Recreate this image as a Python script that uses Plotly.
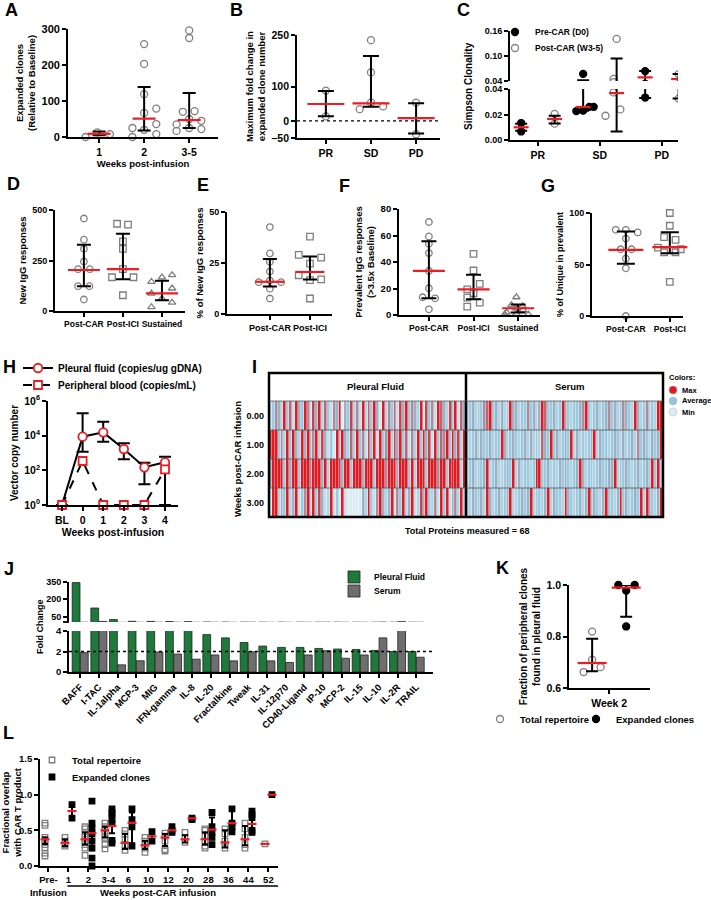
import plotly.graph_objects as go

W, H = 711, 900
FONT = "Liberation Sans, Arial, sans-serif"
RED = "#ec1c24"
GREY = "#7f7f7f"
GREEN = "#1d7a3b"
SERUM = "#6e6e6e"

# ---------------- A: expanded clones ----------------
a_cats = ["1", "2", "3-5"]
a_vals = [[0, 13, 8],
          [258, 203, 119, 67, 79, 36, 25, 20, 8, 0],
          [296, 275, 70, 72, 50, 45, 35, 25, 22, 17]]
a_med = [9, 51, 47]
a_hi = [15, 139, 122]
a_lo = [5, 18, 25]

# ---------------- B: max fold change by response ----------------
b_cats = ["PR", "SD", "PD"]
b_vals = [[88, 13], [235, 141, 53, 34, 42], [53, -39]]
b_med = [49, 51, 8]
b_hi = [87, 189, 51]
b_lo = [13, 41, -37]

# ---------------- C: Simpson clonality ----------------
c_cats = ["PR", "SD", "PD"]
c_pre = [[0.0133, 0.0067], [0.057, 0.0227, 0.023, 0.026, 0.026], [0.0637, 0.0333]]
c_post = [[0.0205, 0.0128], [0.141, 0.045, 0.0373, 0.024, 0.019], [0.0566, 0.0325]]
c_pre_med = [0.010, 0.0259, 0.0487]
c_pre_hi = [0.0128, 0.042, 0.064]
c_pre_lo = [0.0072, 0.023, 0.033]
c_post_med = [0.0165, 0.0368, 0.0447]
c_post_hi = [0.019, 0.094, 0.0566]
c_post_lo = [0.013, 0.0067, 0.0325]

# ---------------- D-G: IgG responses ----------------
dg_cats3 = ["Post-CAR", "Post-ICI", "Sustained"]
dg_cats2 = ["Post-CAR", "Post-ICI"]
d_vals = [[458, 353, 308, 245, 207, 207, 123, 123, 57],
          [432, 428, 345, 308, 207, 167, 167, 78],
          [145, 167, 178, 87, 112, 62, 20, 42]]
d_med = [203, 207, 87]
d_hi = [328, 383, 150]
d_lo = [123, 157, 53]

e_vals = [[42.6, 29.7, 25.6, 20.8, 16.4, 15.6, 15.6, 12.4, 7.6],
          [37.9, 29, 27.6, 24.7, 19, 16.6, 17, 7.6]]
e_med = [15.8, 20.6]
e_hi = [26.9, 28.2]
e_lo = [13.5, 16.9]

f_vals = [[70.2, 59.3, 53.8, 46.7, 33.3, 20.2, 13.4, 12.6, 4.3],
          [46.2, 33.6, 23.5, 19.4, 16.4, 13.1, 9.3, 6.3],
          [13.5, 7.5, 6.8, 5, 3.8, 2, 1, 0.5, 0.5]]
f_med = [33.3, 19.4, 5.1]
f_hi = [55.6, 30.3, 8]
f_lo = [12.6, 11.9, 1.8]

g_vals = [[83.7, 83.7, 81.1, 75.2, 64.8, 64.8, 55.7, 46.3, 0],
          [100, 87.6, 76.5, 73.9, 66.4, 64.8, 61.9, 61.9, 33.2]]
g_med = [64.2, 66.8]
g_hi = [82, 81.4]
g_lo = [50.8, 61]

# ---------------- H: vector copy number ----------------
h_weeks = ["BL", "0", "1", "2", "3", "4"]
h_pleural = [1, 8700, 15500, 1700, 150, 290]
h_pleural_hi = [1, 195000, 64000, 3600, 275, 610]
h_pleural_lo = [1, 1200, 4500, 430, 15.5, 1]
h_blood = [1, 345, 1, 1, 1, 115]

# ---------------- I: cytokine heatmap (0 = min, 4-5 = average, 9 = max) ----------------
i_weeks = ["0.00", "1.00", "2.00", "3.00"]
i_pleural = ["3465394729 5496285937 4265915483 6293749519 3647285946 5391846297 53849275",
             "9994639495 3959469385 2419495373 9462849294 6938594726 3949582947 69495839",
             "6999949599 4999699959 3999859949 9959994999 6999599949 3999499969 94999939",
             "2993549359 2469394852 3924192111 1153942695 3592649359 2385943629 49256393"]
i_serum = ["4453446794 5353495534 4645359744 5349543445 6943453456 4534654395 34634399",
           "4345354453 4495345434 5353437549 4534549353 4345935443 4543534536 45435459",
           "3453445934 5334549353 4434994453 4354543459 5344345445 5934454345 34549493",
           "4354453953 4534593345 4593443593 5443954345 3594543594 4359453454 93954359"]

# ---------------- J: fold change ----------------
j_cyto = ["BAFF", "I-TAC", "IL-1alpha", "MCP-3", "MIG", "IFN-gamma", "IL-8", "IL-20",
          "Fractalkine", "Tweak", "IL-31", "IL-12p70", "CD40-Ligand", "IP-10", "MCP-2",
          "IL-15", "IL-10", "IL-2R", "TRAIL"]
j_pleural = [345, 125, 25, 10, 9, 8, 7, 3.65, 3.33, 2.88, 2.53, 2.4, 2.4, 2.3, 2.24, 2.2, 2.1, 2.0, 2.0]
j_serum = [1.89, 9, 0.7, 1.1, 1.95, 1.75, 1.25, 1.66, 1.09, 1.98, 1.09, 0.93, 1.66, 2.08, 1.34,
           1.66, 3.33, 7, 1.44]

# ---------------- K: overlap with pleural fluid ----------------
k_total = [0.819, 0.71, 0.681, 0.662]
k_expanded = [1.0, 1.0, 0.978, 0.839]
k_med = [0.697, 0.99]
k_hi = [0.791, 1.0]
k_lo = [0.665, 0.877]

# ---------------- L: overlap with CAR T product ----------------
l_cats = ["Pre-<br>Infusion", "1", "2", "3-4", "6", "10", "12", "20", "28", "36", "44", "52"]
l_total = [[0.6, 0.57, 0.4, 0.37, 0.33, 0.3, 0.25, 0.18, 0.14],
           [0.4, 0.35, 0.3, 0.28],
           [0.55, 0.52, 0.45, 0.4, 0.35, 0.3, 0.25, 0.15],
           [0.6, 0.55, 0.5, 0.45, 0.4, 0.38, 0.3, 0.24],
           [0.5, 0.45, 0.37, 0.3, 0.22],
           [0.4, 0.35, 0.3, 0.25, 0.19],
           [0.46, 0.42, 0.35, 0.23, 0.21],
           [0.47, 0.4, 0.33],
           [0.52, 0.5, 0.42, 0.35, 0.28, 0.25],
           [0.52, 0.45, 0.35, 0.3, 0.25],
           [0.6, 0.52, 0.4, 0.3, 0.25],
           [0.31]]
l_total_med = [0.375, 0.324, 0.375, 0.5, 0.324, 0.29, 0.4, 0.375, 0.375, 0.33, 0.375, 0.31]
l_total_hi = [0.4, 0.37, 0.47, 0.55, 0.45, 0.35, 0.45, 0.43, 0.47, 0.5, 0.56, 0.31]
l_total_lo = [0.31, 0.28, 0.3, 0.4, 0.24, 0.24, 0.28, 0.33, 0.3, 0.26, 0.29, 0.31]
l_exp = [[0.86, 0.67],
         [0.91, 0.6, 0.53, 0.45, 0.35, 0.25, 0.11, 0.0],
         [0.8, 0.75, 0.72, 0.65, 0.6, 0.36, 0.32],
         [0.8, 0.65, 0.55, 0.28],
         [0.48, 0.35],
         [0.55, 0.5, 0.47],
         [0.67, 0.65],
         [0.75, 0.55, 0.48, 0.4, 0.3],
         [0.8, 0.6, 0.55, 0.48],
         [0.77, 0.72, 0.68, 0.5, 0.47],
         [1.0]]
l_exp_med = [0.77, 0.46, 0.56, 0.605, 0.415, 0.5, 0.667, 0.51, 0.6, 0.59, 1.0]
l_exp_hi = [0.83, 0.58, 0.68, 0.75, 0.45, 0.53, 0.68, 0.68, 0.8, 0.75, 1.0]
l_exp_lo = [0.7, 0.22, 0.46, 0.32, 0.38, 0.47, 0.65, 0.38, 0.5, 0.48, 1.0]

# point spread inside each column (category units)
a_jit = [[-0.3, -0.04, 0.24], [0, 0, 0, 0, 0.27, 0.27, -0.26, 0, 0.27, -0.26],
         [0, 0, -0.14, 0.12, 0, 0.27, -0.28, 0, 0.27, -0.28]]
b_jit = [[0, 0], [0, 0, 0, -0.25, 0.27], [0, 0]]
c_pre_jit = [[0, 0], [0, -0.11, 0, 0.1, 0.17], [0, 0]]
c_post_jit = [[0, 0], [0, -0.05, -0.05, 0.06, -0.18], [0, 0]]
d_jit = [[0, 0, 0, 0, -0.15, 0.15, -0.15, 0.14, 0], [-0.15, 0.13, 0, 0, 0, -0.28, 0.27, 0],
         [-0.27, 0, 0.26, -0.27, 0.26, 0, -0.27, 0.26]]
e_jit = [[0, 0, 0, 0, 0, -0.28, 0.28, 0, 0], [0, -0.28, 0.28, 0, -0.28, 0, 0.28, 0]]
f_jit = [[0, 0, 0, 0, 0, 0, -0.14, 0.14, 0], [0, 0, 0.14, -0.14, 0, -0.14, 0.14, -0.14],
         [-0.04, -0.15, 0.1, -0.04, 0.11, -0.26, -0.04, -0.3, 0.23]]
g_jit = [[-0.23, 0, 0.27, 0, -0.12, 0.13, 0, 0, 0], [0, 0, -0.13, 0.13, -0.27, 0.25, -0.13, 0.13, 0]]
k_jit = [[0, 0, 0.25, -0.25], [-0.23, 0.25, 0, 0]]


def px(x):
    return x / W


def py(y):
    return 1 - y / H


def xdom(a, b):
    return [px(a), px(b)]


def ydom(top, bot):
    return [py(bot), py(top)]


def tfont(size=10.5, color="black"):
    return dict(family=FONT, size=size, color=color, weight="bold")


def axis(dom, rng, anchor, size=10.5, **kw):
    d = dict(domain=dom, range=rng, anchor=anchor, showline=True, linecolor="black", linewidth=1.8,
             ticks="outside", ticklen=4, tickwidth=1.8, tickcolor="black", showgrid=False,
             zeroline=False, tickfont=tfont(size), fixedrange=True, automargin=False, tickangle=0)
    d.update(kw)
    return d


def ttl(text, size=9.5, standoff=4):
    return dict(text=text, font=tfont(size), standoff=standoff)


fig = go.Figure()


def dots(xa, ya, centers, vals, jit, symbol, color, size, clip=False, name=None, legend=None):
    xs, ys = [], []
    for c, vv, jj in zip(centers, vals, jit):
        for v, j in zip(vv, jj):
            xs.append(c + j)
            ys.append(v)
    fig.add_trace(go.Scatter(
        x=xs, y=ys, xaxis=xa, yaxis=ya, mode="markers", cliponaxis=clip, name=name,
        showlegend=legend is not None, legend=legend or "legend",
        marker=dict(symbol=symbol, size=size, color=color, line=dict(color=color, width=1.3))))


def summary(xa, ya, centers, med, hi, lo, medlen, cap, clip=False):
    fig.add_trace(go.Scatter(
        x=centers, y=med, xaxis=xa, yaxis=ya, mode="markers", cliponaxis=clip, showlegend=False,
        marker=dict(symbol="line-ew", size=medlen / 1.4, color=RED, line=dict(color=RED, width=2.2)),
        error_y=dict(type="data", symmetric=False, array=[h - m for h, m in zip(hi, med)],
                     arrayminus=[m - l for m, l in zip(med, lo)], color="black", thickness=2,
                     width=cap / 2)))


# A
dots("x", "y", [0, 1, 2], a_vals, a_jit, "circle-open", GREY, 7)
summary("x", "y", [0, 1, 2], a_med, a_hi, a_lo, 23, 13)
# B
dots("x2", "y2", [0, 1, 2], b_vals, b_jit, "circle-open", GREY, 7)
summary("x2", "y2", [0, 1, 2], b_med, b_hi, b_lo, 37, 16)
# C (broken axis: same data on both segments, clipped)
pre_c = [i - 0.27 for i in range(3)]
post_c = [i + 0.27 for i in range(3)]
for xa, ya, leg in [("x3", "y3", False), ("x4", "y4", True)]:
    dots(xa, ya, pre_c, c_pre, c_pre_jit, "circle", "black", 7, clip=True,
         name="Pre-CAR (D0)", legend="legend" if leg else None)
    dots(xa, ya, post_c, c_post, c_post_jit, "circle-open", GREY, 7, clip=True,
         name="Post-CAR (W3-5)", legend="legend2" if leg else None)
    summary(xa, ya, pre_c, c_pre_med, c_pre_hi, c_pre_lo, 15, 12, clip=True)
    summary(xa, ya, post_c, c_post_med, c_post_hi, c_post_lo, 15, 12, clip=True)
# D
d_sym = ["circle-open", "square-open", "triangle-up-open"]
for k in range(3):
    dots("x5", "y5", [k], [d_vals[k]], [d_jit[k]], d_sym[k], GREY, 6.5)
summary("x5", "y5", [0, 1, 2], d_med, d_hi, d_lo, 32, 14)
# E
for k in range(2):
    dots("x6", "y6", [k], [e_vals[k]], [e_jit[k]], d_sym[k], GREY, 6.5)
summary("x6", "y6", [0, 1], e_med, e_hi, e_lo, 29, 14)
# F
for k in range(3):
    dots("x7", "y7", [k], [f_vals[k]], [f_jit[k]], d_sym[k], GREY, 6.5)
summary("x7", "y7", [0, 1, 2], f_med, f_hi, f_lo, 32, 15)
# G
for k in range(2):
    dots("x8", "y8", [k], [g_vals[k]], [g_jit[k]], d_sym[k], GREY, 6.5)
summary("x8", "y8", [0, 1], g_med, g_hi, g_lo, 35, 18)

# H
hx = list(range(len(h_weeks)))
fig.add_trace(go.Scatter(
    x=hx, y=h_pleural, xaxis="x9", yaxis="y9", mode="lines+markers", cliponaxis=False,
    name="Pleural fluid (copies/ug gDNA)", legend="legend3",
    line=dict(color="black", width=2),
    marker=dict(symbol="circle", size=8.5, color="white", line=dict(color=RED, width=1.8)),
    error_y=dict(type="data", symmetric=False,
                 array=[h - m for h, m in zip(h_pleural_hi, h_pleural)],
                 arrayminus=[m - l for m, l in zip(h_pleural, h_pleural_lo)],
                 color="black", thickness=2, width=6)))
fig.add_trace(go.Scatter(
    x=hx, y=h_blood, xaxis="x9", yaxis="y9", mode="lines+markers", cliponaxis=False,
    name="Peripheral blood (copies/mL)", legend="legend4",
    line=dict(color="black", width=2, dash="dash"),
    marker=dict(symbol="square", size=8, color="white", line=dict(color=RED, width=1.8))))

# I
i_z = []
for p, s in zip(i_pleural, i_serum):
    row = "".join(p.split()) + "".join(s.split())
    i_z.append([int(ch) for ch in row])
fig.add_trace(go.Heatmap(
    z=i_z, x=list(range(len(i_z[0]))), y=list(range(len(i_weeks))), xaxis="x10", yaxis="y10",
    zmin=0, zmax=9, showscale=False, xgap=0.4,
    colorscale=[[0, "#eef6f9"], [0.5, "#93c4db"], [1, "#df1a22"]]))

# J (broken axis)
for xa, ya, leg in [("x11", "y11", False), ("x12", "y12", True)]:
    fig.add_trace(go.Bar(x=j_cyto, y=j_pleural, xaxis=xa, yaxis=ya, name="Pleural Fluid",
                         showlegend=leg, legend="legend5",
                         marker=dict(color=GREEN, line=dict(color="#222222", width=0.8))))
    fig.add_trace(go.Bar(x=j_cyto, y=j_serum, xaxis=xa, yaxis=ya, name="Serum",
                         showlegend=leg, legend="legend6",
                         marker=dict(color=SERUM, line=dict(color="#222222", width=0.8))))

# K
dots("x13", "y13", [-0.5], [k_total], [k_jit[0]], "circle-open", GREY, 7,
     name="Total repertoire", legend="legend7")
dots("x13", "y13", [0.5], [k_expanded], [k_jit[1]], "circle", "black", 7,
     name="Expanded clones", legend="legend8")
summary("x13", "y13", [-0.5, 0.5], k_med, k_hi, k_lo, 29, 12)

# L
lt_c = [i - 0.17 for i in range(len(l_cats))]
le_c = [i + 0.18 for i in range(1, len(l_cats))]
l_jt = [[0] * len(v) for v in l_total]
l_je = [[0] * len(v) for v in l_exp]
dots("x14", "y14", lt_c, l_total, l_jt, "square-open", GREY, 5.5,
     name="Total repertoire", legend="legend9")
dots("x14", "y14", le_c, l_exp, l_je, "square", "black", 5.5,
     name="Expanded clones", legend="legend10")
summary("x14", "y14", lt_c, l_total_med, l_total_hi, l_total_lo, 9, 6)
summary("x14", "y14", le_c, l_exp_med, l_exp_hi, l_exp_lo, 9, 6)

# ---------------- axes ----------------
lay = {}
lay["xaxis"] = axis(xdom(68, 218), [-0.69, 2.64], "y", tickvals=[0, 1, 2], ticktext=a_cats,
                    title=ttl("Weeks post-infusion"))
lay["yaxis"] = axis(ydom(29, 137), [0, 300], "x", 11, tickvals=[0, 100, 200, 300],
                    title=ttl("Expanded clones<br>(Relative to Baseline)"))
lay["xaxis2"] = axis(xdom(297, 440), [-0.64, 2.53], "y2", tickvals=[0, 1, 2], ticktext=b_cats)
lay["yaxis2"] = axis(ydom(35, 138), [-50, 250], "x2", tickvals=[-50, 0, 100, 250],
                     title=ttl("Maximum fold change in<br>expanded clone number"))
lay["xaxis3"] = axis(xdom(510, 678), [-0.45, 2.26], "y3", showline=False, ticks="",
                     showticklabels=False)
lay["yaxis3"] = axis(ydom(31, 81), [0.04, 0.16], "x3", 9, tickvals=[0.04, 0.10, 0.16], tickformat=".2f")
lay["xaxis4"] = axis(xdom(510, 678), [-0.45, 2.26], "y4", tickvals=[0, 1, 2], ticktext=c_cats)
lay["yaxis4"] = axis(ydom(89, 140), [0, 0.04], "x4", 9, tickvals=[0, 0.02, 0.04], tickformat=".2f")
lay["xaxis5"] = axis(xdom(55, 185), [-0.74, 2.59], "y5", 8.5, tickvals=[0, 1, 2], ticktext=dg_cats3)
lay["yaxis5"] = axis(ydom(210, 311), [0, 500], "x5", 9, tickvals=[0, 250, 500],
                     title=ttl("New IgG responses", 9.5))
lay["xaxis6"] = axis(xdom(227, 332), [-1.07, 1.55], "y6", 9, tickvals=[0, 1], ticktext=dg_cats2)
lay["yaxis6"] = axis(ydom(212, 314), [0, 50], "x6", 9, tickvals=[0, 25, 50],
                     title=ttl("% of New IgG responses", 9.5))
lay["xaxis7"] = axis(xdom(399, 540), [-0.67, 2.49], "y7", 8.5, tickvals=[0, 1, 2], ticktext=dg_cats3)
lay["yaxis7"] = axis(ydom(209, 315), [0, 80], "x7", 9.5, tickvals=[0, 20, 40, 60, 80],
                     title=ttl("Prevalent IgG responses<br>(>3.5x Baseline)", 9.5))
lay["xaxis8"] = axis(xdom(592, 683), [-0.77, 1.3], "y8", 8.5, tickvals=[0, 1], ticktext=dg_cats2)
lay["yaxis8"] = axis(ydom(213, 316), [0, 100], "x8", 9, tickvals=[0, 50, 100],
                     title=ttl("% of Unique in prevalent", 9))
lay["xaxis9"] = axis(xdom(48, 178), [-0.68, 5.63], "y9", tickvals=hx, ticktext=h_weeks,
                     title=ttl("Weeks post-infusion", 10.5))
lay["yaxis9"] = axis(ydom(401, 505), [0, 6], "x9", type="log", tickvals=[1, 100, 1e4, 1e6],
                     ticktext=["10<sup>0</sup>", "10<sup>2</sup>", "10<sup>4</sup>", "10<sup>6</sup>"],
                     title=ttl("Vector copy number", 10))
lay["xaxis10"] = axis(xdom(269, 663), [-0.5, 135.5], "y10", visible=False)
lay["yaxis10"] = axis(ydom(401, 517), [3.5, -0.5], "x10", 9, showline=False, ticks="",
                      ticklabelstandoff=4, tickvals=[0, 1, 2, 3], ticktext=i_weeks,
                      title=ttl("Weeks post-CAR infusion", 9.5, 3))
lay["xaxis11"] = axis(xdom(69, 433), [-0.6, 18.9], "y11", type="category", showline=False,
                      ticks="", showticklabels=False)
lay["yaxis11"] = axis(ydom(582, 622), [4, 350], "x11", 9, tickvals=[50, 200, 350])
lay["xaxis12"] = axis(xdom(69, 433), [-0.6, 18.9], "y12", 9.5, type="category", tickangle=-45)
lay["yaxis12"] = axis(ydom(631, 672), [0, 4], "x12", 9.5, tickvals=[0, 2, 4])
lay["xaxis13"] = axis(xdom(569, 650), [-1.18, 1.2], "y13", tickvals=[0], ticktext=["Week 2"])
lay["yaxis13"] = axis(ydom(585, 688), [0.6, 1.0], "x13", tickvals=[0.6, 0.8, 1.0], tickformat=".1f",
                      title=ttl("Fraction of peripheral clones<br>found in pleural fluid", 10))
lay["xaxis14"] = axis(xdom(40, 278), [-0.42, 11.48], "y14", 9.5,
                      tickvals=list(range(len(l_cats))), ticktext=l_cats)
lay["yaxis14"] = axis(ydom(759, 866), [0, 1.5], "x14", 9.5, tickvals=[0, 0.5, 1.0, 1.5],
                      tickformat=".1f", title=ttl("Fractional overlap<br>with CAR T product", 9.5))


def leg(x_text, y_mid, size=10):
    return dict(x=px(x_text - 40), y=py(y_mid), xanchor="left", yanchor="middle",
                bgcolor="rgba(0,0,0,0)", borderwidth=0, font=tfont(size), itemwidth=30,
                itemclick=False, itemdoubleclick=False)


lay["legend"] = leg(535, 32, 8.5)
lay["legend2"] = leg(535, 48, 8.5)
lay["legend3"] = leg(58, 368)
lay["legend4"] = leg(58, 385)
lay["legend5"] = leg(374, 577, 8.5)
lay["legend6"] = leg(374, 591, 8.5)
lay["legend7"] = leg(520, 719, 9.5)
lay["legend8"] = leg(616, 719, 9.5)
lay["legend9"] = leg(72, 760, 9.5)
lay["legend10"] = leg(72, 777, 9.5)

# ---------------- shapes ----------------
shapes = [
    dict(type="line", xref="x2 domain", x0=0, x1=1, yref="y2", y0=0, y1=0,
         line=dict(color="black", width=1.3, dash="dot")),
    dict(type="line", xref="x12 domain", x0=0, x1=1, yref="y12", y0=2, y1=2,
         line=dict(color="black", width=1.5, dash="dot")),
    dict(type="line", xref="paper", yref="paper", x0=px(63), x1=px(69), y0=py(622), y1=py(622),
         line=dict(color="black", width=1.8)),
    dict(type="rect", xref="paper", yref="paper", x0=px(269), x1=px(663), y0=py(517), y1=py(373),
         line=dict(color="black", width=2.5)),
    dict(type="line", xref="paper", yref="paper", x0=px(466), x1=px(466), y0=py(517), y1=py(373),
         line=dict(color="black", width=2.5)),
    dict(type="line", xref="paper", yref="paper", x0=px(269), x1=px(663), y0=py(401), y1=py(401),
         line=dict(color="#555555", width=0.8)),
    dict(type="line", xref="x14", x0=0.95, x1=11.48, yref="paper", y0=py(886), y1=py(886),
         line=dict(color="black", width=1.5)),
]
for r in [0.5, 1.5, 2.5]:
    shapes.append(dict(type="line", xref="x10 domain", x0=0, x1=1, yref="y10", y0=r, y1=r,
                       line=dict(color="#555555", width=0.8)))
for yy, col in [(390, "#df1a22"), (401, "#93c4db"), (412, "#dcebf2")]:
    shapes.append(dict(type="circle", xref="paper", yref="paper", x0=px(669), x1=px(677),
                       y0=py(yy + 4), y1=py(yy - 4), fillcolor=col, line=dict(color="#bbbbbb", width=0.5)))

# ---------------- annotations ----------------
ann = []


def note(text, x, y, size=10.5, xanchor="center", angle=0):
    ann.append(dict(text=text, x=px(x), y=py(y), xref="paper", yref="paper", showarrow=False,
                    font=tfont(size), xanchor=xanchor, yanchor="middle", textangle=angle))


for t, x, y in [("A", 12, 10), ("B", 236, 10), ("C", 464, 10), ("D", 13, 184), ("E", 203, 185),
                ("F", 344, 186), ("G", 548, 186), ("H", 9, 367), ("I", 254, 367), ("J", 9, 569),
                ("K", 503, 568), ("L", 8, 733)]:
    note(t, x, y, 18)
note("Simpson Clonality", 468, 86, 10, angle=-90)
note("Fold Change", 40, 627, 9, angle=-90)
note("Pleural Fluid", 375, 386, 9.5)
note("Serum", 570, 386, 9.5)
note("Total Proteins measured = 68", 468, 531, 9)
note("Colors:", 667, 377, 7.5, xanchor="left")
note("Max", 680, 390, 7.5, xanchor="left")
note("Average", 680, 401, 7.5, xanchor="left")
note("Min", 680, 412, 7.5, xanchor="left")
note("Weeks post-CAR infusion", 158, 892, 9.5)

fig.update_layout(
    template="none",
    width=W, height=H, margin=dict(l=0, r=0, t=0, b=0, autoexpand=False), paper_bgcolor="white",
    plot_bgcolor="rgba(0,0,0,0)", font=dict(family=FONT, color="black"),
    barmode="group", bargap=0.12, bargroupgap=0.05, showlegend=True,
    shapes=shapes, annotations=ann, **lay)

# the page body has a default 8px margin; drop it so the figure sits at the window origin
fig.write_html("out.html", config={"displayModeBar": False},
               post_script="document.body.style.margin='0';")
